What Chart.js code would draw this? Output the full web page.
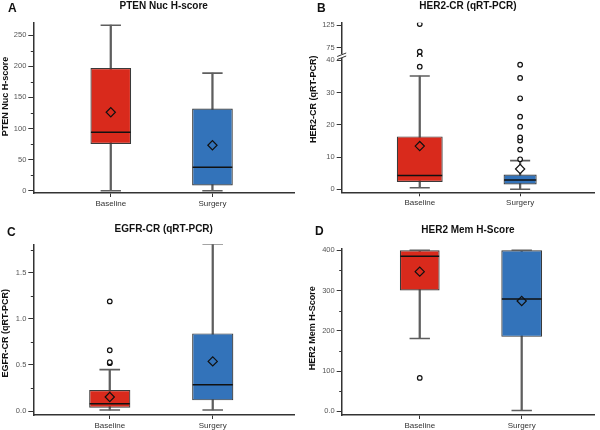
<!DOCTYPE html>
<html><head><meta charset="utf-8">
<script src="https://cdn.jsdelivr.net/npm/chart.js@4.4.0/dist/chart.umd.min.js"></script>
<style>
html,body{margin:0;padding:0;background:#fff;}
#wrap{position:relative;width:600px;height:430px;background:#fff;}
#wrap canvas{position:absolute;}
</style></head><body>
<div id="wrap">
<canvas id="cA" width="300" height="215" style="left:0;top:0;width:300px;height:215px"></canvas>
<canvas id="cB" width="300" height="215" style="left:300px;top:0;width:300px;height:215px"></canvas>
<canvas id="cC" width="300" height="215" style="left:0;top:215px;width:300px;height:215px"></canvas>
<canvas id="cD" width="300" height="215" style="left:300px;top:215px;width:300px;height:215px"></canvas>
</div>
<script>
// ---------------- DATA ----------------
const categories = ['Baseline', 'Surgery'];
// five-number summaries: [lower whisker, Q1, median, Q3, upper whisker]
const ptenBaseline = [0, 75, 94, 197, 266];
const ptenSurgery  = [0, 8.5, 37.5, 132, 189];
const ptenMeans    = [126, 73];
const ptenOutliers = [[], []];
const ptenTicks    = [0, 50, 100, 150, 200, 250];
const ptenMinor    = [25, 75, 125, 175, 225];

const her2crBaseline = [0.5, 2.3, 4.3, 16.4, 35.1];
const her2crSurgery  = [0, 1.5, 2.9, 4.6, 8.9];
const her2crMeans    = [13.4, 6.3];
const her2crOutliers = [[38], [9.3, 12.3, 15.1, 16.1, 19.4, 22.5, 28.2, 34.5, 38.6]];
const her2crHighOutliers = [[55.5, 66, 127], []];
const her2crTicks     = [0, 10, 20, 30, 40];
const her2crHighTicks = [75, 125];

const egfrBaseline = [0.012, 0.036, 0.08, 0.228, 0.45];
const egfrSurgery  = [0.011, 0.116, 0.285, 0.843, 1.815];
const egfrMeans    = [0.152, 0.539];
const egfrOutliers = [[0.52, 0.53, 0.66, 1.19], []];
const egfrTicks      = [0, 0.5, 1.0, 1.5];
const egfrTickLabels = ['0.0', '0.5', '1.0', '1.5'];
const egfrMinor      = [0.25, 0.75, 1.25, 1.75];

const her2memBaseline = [181, 300, 385, 400, 400];
const her2memSurgery  = [2, 185, 279, 400, 400];
const her2memMeans    = [347, 274];
const her2memOutliers = [[83], []];
const her2memTicks      = [0, 100, 200, 300, 400];
const her2memTickLabels = ['0.0', '100', '200', '300', '400'];
const her2memMinor      = [50, 150, 250, 350];

// ---------------- STYLE ----------------
const FONT = "'Liberation Sans', Arial, Helvetica, sans-serif";
Chart.defaults.font.family = FONT;
const RED = '#d92a1c';
const BLUE = '#3373ba';
const AXIS = '#333333';
const WHISKER = '#5e5e5e';

const decorPlugin = {
  id: 'decor',
  afterDraw(chart, args, o) {
    const ctx = chart.ctx;
    const area = chart.chartArea;
    ctx.save();
    (o.minor || []).forEach(m => {
      const s = chart.scales[m.scale];
      ctx.strokeStyle = AXIS; ctx.lineWidth = 1;
      m.values.forEach(v => {
        const py = Math.round(s.getPixelForValue(v)) + 0.5;
        ctx.beginPath(); ctx.moveTo(area.left - 2.5, py); ctx.lineTo(area.left, py); ctx.stroke();
      });
    });
    if (o.breakScale) {
      const s = chart.scales[o.breakScale];
      const yb = s.bottom;
      const ax = area.left;
      ctx.fillStyle = '#fff';
      ctx.fillRect(ax - 3, yb - 3, 6, 4);
      ctx.strokeStyle = AXIS; ctx.lineWidth = 1;
      ctx.beginPath(); ctx.moveTo(ax - 4.5, yb - 0.5); ctx.lineTo(ax + 4.5, yb - 4); ctx.stroke();
      ctx.beginPath(); ctx.moveTo(ax - 4.5, yb + 2.5); ctx.lineTo(ax + 4.5, yb - 1); ctx.stroke();
    }
    ctx.fillStyle = '#111';
    ctx.font = 'bold 12px ' + FONT;
    ctx.textAlign = 'left'; ctx.textBaseline = 'alphabetic';
    ctx.fillText(o.letter, o.letterX, o.letterY);
    ctx.translate(o.yTitleX, o.yTitleY);
    ctx.rotate(-Math.PI / 2);
    ctx.font = 'bold 9px ' + FONT;
    ctx.textAlign = 'center'; ctx.textBaseline = 'middle';
    ctx.fillText(o.yTitle, 0, 0);
    ctx.restore();
  }
};

function yScale(p, opts) {
  return Object.assign({
    type: 'linear',
    position: 'left',
    afterFit: s => { s.width = p.axisWidth; },
    afterBuildTicks: s => { s.ticks = opts.ticks.map(v => ({ value: v })); },
    ticks: {
      callback: (v, i) => (opts.labels ? opts.labels[i] : String(opts.ticks[i])),
      font: { size: 7.5 }, color: '#555', padding: 2
    },
    grid: { drawOnChartArea: false, tickLength: 5, tickColor: AXIS, tickWidth: 1 },
    border: { color: AXIS, width: 1.5 }
  }, opts.extra);
}

function boxPanel(id, p) {
  const xs = [1, 2];
  const spacing = c => { const s = c.chart.scales.x; return s.getPixelForValue(2) - s.getPixelForValue(1); };
  const datasets = [];
  const pts = (lists) => { const out = []; lists.forEach((arr, i) => arr.forEach(v => out.push({ x: xs[i], y: v }))); return out; };
  const outlierStyle = { type: 'scatter', order: 0, pointStyle: 'circle', pointRadius: 2.3,
    pointBackgroundColor: '#fff', pointBorderColor: '#111', pointBorderWidth: 1.2 };
  datasets.push(Object.assign({ data: pts(p.outliers) }, outlierStyle));
  if (p.highOutliers) datasets.push(Object.assign({ data: pts(p.highOutliers), yAxisID: 'y2' }, outlierStyle));
  datasets.push({ type: 'scatter', order: 1, data: p.means.map((m, i) => ({ x: xs[i], y: m })),
    pointStyle: 'rectRot', pointRadius: 4.6,
    pointBackgroundColor: c => {
      const s = p.summaries[c.dataIndex]; const m = p.means[c.dataIndex];
      return (m > s[3] || m < s[1]) ? '#fff' : 'rgba(0,0,0,0)';
    },
    pointBorderColor: '#111', pointBorderWidth: 1.2 });
  p.summaries.forEach((s, i) => {
    datasets.push({ type: 'scatter', order: 2, data: [{ x: xs[i], y: s[2] }], pointStyle: 'line',
      pointRadius: c => p.boxPct[i] * spacing(c) / 2 - 0.5, pointBorderColor: '#111', pointBorderWidth: 1.5 });
    datasets.push({ type: 'bar', order: 4, data: [{ x: xs[i], y: [s[1], s[3]] }], backgroundColor: p.colors[i],
      borderColor: '#3a3a3a', borderWidth: 1.2, borderSkipped: false, grouped: false,
      categoryPercentage: 1, barPercentage: p.boxPct[i] });
  });
  const caps = [];
  p.summaries.forEach((s, i) => { caps.push({ x: xs[i], y: s[0] }); caps.push({ x: xs[i], y: s[4] }); });
  datasets.push({ type: 'scatter', order: 3, data: caps, pointStyle: 'line',
    pointRadius: c => 0.2 * spacing(c) / 2, pointBorderColor: WHISKER, pointBorderWidth: 1.6 });
  datasets.push({ type: 'bar', order: 5, data: p.summaries.map((s, i) => ({ x: xs[i], y: [s[0], s[4]] })),
    backgroundColor: WHISKER, borderWidth: 0, grouped: false, categoryPercentage: 1, barPercentage: 1,
    maxBarThickness: 1.6 });

  const scales = {
    x: {
      type: 'linear', min: p.xMin, max: p.xMax, offset: false,
      afterFit: s => { s.height = p.xHeight; },
      afterBuildTicks: s => { s.ticks = xs.map(v => ({ value: v })); },
      ticks: { callback: (v, i) => categories[i], font: { size: 8 }, color: '#333', padding: 1.5,
        maxRotation: 0, autoSkip: false },
      grid: { drawOnChartArea: false, offset: false, tickLength: 4, tickColor: AXIS },
      border: { color: AXIS, width: 1.5 }
    },
    y: yScale(p, p.y)
  };
  if (p.y2) scales.y2 = yScale(p, p.y2);

  new Chart(document.getElementById(id), {
    type: 'bar',
    data: { datasets },
    options: {
      responsive: false, animation: false, events: [],
      layout: { padding: { left: 0, right: p.padRight, top: 0, bottom: 0 } },
      scales,
      plugins: {
        legend: { display: false }, tooltip: { enabled: false },
        title: { display: true, text: p.title, fullSize: false, color: '#111',
          font: { size: 10, weight: 'bold' }, padding: { top: p.titleTop, bottom: p.titleBottom } },
        decor: p.decor
      }
    },
    plugins: [decorPlugin]
  });
}

boxPanel('cA', {
  title: 'PTEN Nuc H-score',
  summaries: [ptenBaseline, ptenSurgery], means: ptenMeans, outliers: ptenOutliers,
  colors: [RED, BLUE], boxPct: [0.40, 0.40],
  xMin: 0.238, xMax: 2.804, axisWidth: 33.3, xHeight: 22, padRight: 5, titleTop: 0, titleBottom: 10.7,
  y: { ticks: ptenTicks, extra: { min: -3.7, max: 270 } },
  decor: { letter: 'A', letterX: 8, letterY: 11.5, yTitle: 'PTEN Nuc H-score', yTitleX: 6, yTitleY: 96.5,
    minor: [{ scale: 'y', values: ptenMinor }] }
});

boxPanel('cB', {
  title: 'HER2-CR (qRT-PCR)',
  summaries: [her2crBaseline, her2crSurgery], means: her2crMeans,
  outliers: her2crOutliers, highOutliers: her2crHighOutliers,
  colors: [RED, BLUE], boxPct: [0.457, 0.33],
  xMin: 0.2224, xMax: 2.738, axisWidth: 41.7, xHeight: 22.7, padRight: 5, titleTop: 0, titleBottom: 10.7,
  y: { ticks: her2crTicks, extra: { min: -0.93, max: 41, stack: 'her2', stackWeight: 135.3 } },
  y2: { ticks: her2crHighTicks, extra: { min: 54.4, max: 130.1, stack: 'her2', stackWeight: 34.3 } },
  decor: { letter: 'B', letterX: 17, letterY: 11.5, yTitle: 'HER2-CR (qRT-PCR)', yTitleX: 14, yTitleY: 99.2,
    breakScale: 'y2' }
});

boxPanel('cC', {
  title: 'EGFR-CR (qRT-PCR)',
  summaries: [egfrBaseline, egfrSurgery], means: egfrMeans, outliers: egfrOutliers,
  colors: [RED, BLUE], boxPct: [0.40, 0.40],
  xMin: 0.2575, xMax: 2.791, axisWidth: 33.3, xHeight: 15, padRight: 5, titleTop: 8.5, titleBottom: 8.8,
  y: { ticks: egfrTicks, labels: egfrTickLabels, extra: { min: -0.043, max: 1.81 } },
  decor: { letter: 'C', letterX: 7, letterY: 20.5, yTitle: 'EGFR-CR (qRT-PCR)', yTitleX: 5.5, yTitleY: 118.3,
    minor: [{ scale: 'y', values: egfrMinor }] }
});

boxPanel('cD', {
  title: 'HER2 Mem H-Score',
  summaries: [her2memBaseline, her2memSurgery], means: her2memMeans, outliers: her2memOutliers,
  colors: [RED, BLUE], boxPct: [0.39, 0.40],
  xMin: 0.2346, xMax: 2.711, axisWidth: 41.7, xHeight: 15, padRight: 5, titleTop: 9, titleBottom: 12.3,
  y: { ticks: her2memTicks, labels: her2memTickLabels, extra: { min: -9.2, max: 405 } },
  decor: { letter: 'D', letterX: 15, letterY: 20, yTitle: 'HER2 Mem H-Score', yTitleX: 13, yTitleY: 113.3,
    minor: [{ scale: 'y', values: her2memMinor }] }
});
</script>
</body></html>
